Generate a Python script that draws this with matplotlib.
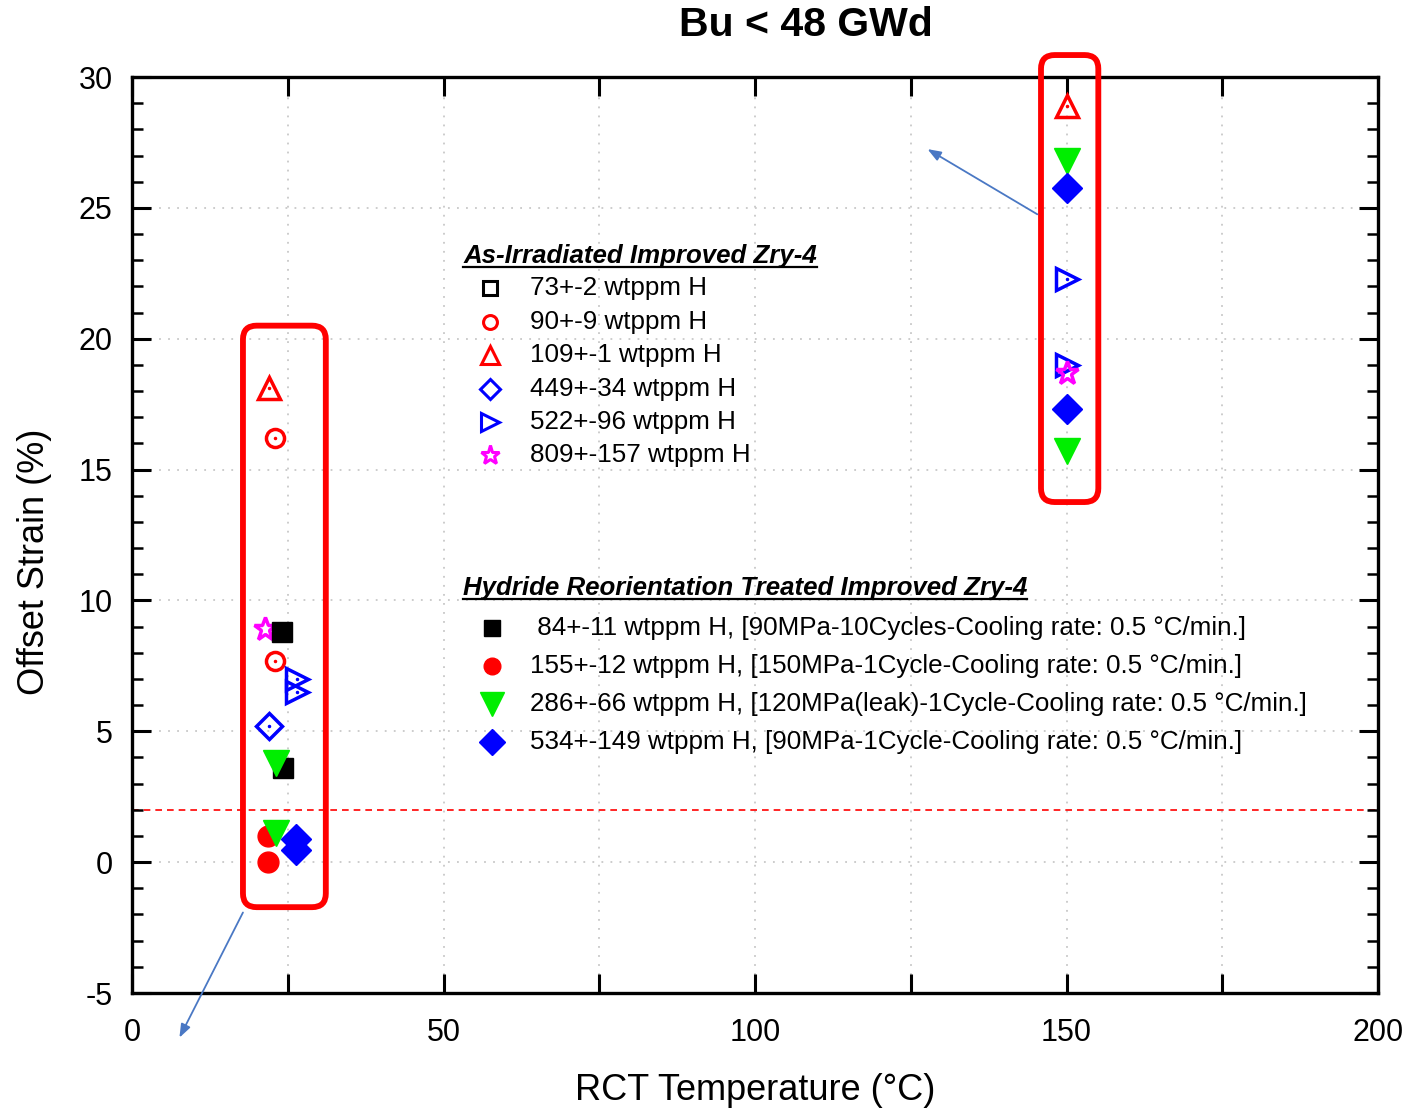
import matplotlib
matplotlib.use("Agg")
import matplotlib.pyplot as plt
from matplotlib.patches import FancyBboxPatch
from matplotlib.lines import Line2D

plt.rcParams['font.family'] = ['Liberation Sans', 'DejaVu Sans']
plt.rcParams['axes.unicode_minus'] = False

# ---- As-irradiated Improved Zry-4 (open symbols) ----
air_labels = ["73+-2 wtppm H", "90+-9 wtppm H", "109+-1 wtppm H",
              "449+-34 wtppm H", "522+-96 wtppm H", "809+-157 wtppm H"]
air_73_x, air_73_y = [], []
air_90_x, air_90_y = [23.0, 23.0], [16.2, 7.7]
air_109_x, air_109_y = [22.0, 150.0], [18.1, 28.9]
air_449_x, air_449_y = [22.0], [5.2]
air_522_x, air_522_y = [26.5, 26.5, 150.0, 150.0], [7.0, 6.5, 22.3, 19.0]
air_809_x, air_809_y = [21.3, 150.0], [8.9, 18.7]

# ---- Hydride reorientation treated Improved Zry-4 (filled symbols) ----
hr_labels = [" 84+-11 wtppm H, [90MPa-10Cycles-Cooling rate: 0.5 \u00b0C/min.]",
             "155+-12 wtppm H, [150MPa-1Cycle-Cooling rate: 0.5 \u00b0C/min.]",
             "286+-66 wtppm H, [120MPa(leak)-1Cycle-Cooling rate: 0.5 \u00b0C/min.]",
             "534+-149 wtppm H, [90MPa-1Cycle-Cooling rate: 0.5 \u00b0C/min.]"]
hr_84_x, hr_84_y = [24.1, 24.2], [8.8, 3.6]
hr_155_x, hr_155_y = [21.8, 21.8], [1.0, 0.0]
hr_286_x, hr_286_y = [23.1, 23.1, 150.0, 150.0], [3.8, 1.1, 26.8, 15.7]
hr_534_x, hr_534_y = [26.3, 26.3, 150.0, 150.0], [0.9, 0.45, 25.75, 17.3]

threshold = 2.0

RED, BLUE, GREEN, MAG, BLACK = "#ff0000", "#0000ff", "#00ee00", "#ff00ff", "#000000"

fig = plt.figure(figsize=(14.17, 11.10), dpi=100)
ax = fig.add_axes([0.0932, 0.1054, 0.8793, 0.8252])
ax.set_xlim(0, 200)
ax.set_ylim(-5, 30)

# grid
for gx in range(25, 200, 25):
    ax.axvline(gx, color="#c8c8c8", ls=(0, (1, 4)), lw=1.3, zorder=0)
for gy in range(0, 30, 5):
    ax.axhline(gy, color="#c8c8c8", ls=(0, (1, 4)), lw=1.3, zorder=0)

ax.axhline(threshold, color=RED, ls=(0, (4, 3)), lw=1.2, zorder=1)

air_style = [
    (air_73_x, air_73_y, "s", BLACK, 13),
    (air_90_x, air_90_y, "o", RED, 13),
    (air_109_x, air_109_y, "^", RED, 16),
    (air_449_x, air_449_y, "D", BLUE, 13),
    (air_522_x, air_522_y, ">", BLUE, 16),
    (air_809_x, air_809_y, "*", MAG, 17),
]
for xs, ys, m, c, s in air_style:
    if not xs:
        continue
    ax.plot(xs, ys, ls="none", marker=m, ms=s, mfc="none", mec=c, mew=2.5, zorder=3)
    if m != "*":
        ax.plot(xs, ys, ls="none", marker=".", ms=3, color=c, zorder=3)

hr_style = [
    (hr_84_x, hr_84_y, "s", BLACK, 15),
    (hr_155_x, hr_155_y, "o", RED, 15),
    (hr_286_x, hr_286_y, "v", GREEN, 19),
    (hr_534_x, hr_534_y, "D", BLUE, 15),
]
for xs, ys, m, c, s in hr_style:
    ax.plot(xs, ys, ls="none", marker=m, ms=s, mfc=c, mec=c, mew=1, zorder=4)

# ticks and spines
ax.set_xticks(range(0, 201, 25))
ax.set_xticklabels(["0", "", "50", "", "100", "", "150", "", "200"])
ax.set_yticks(range(-5, 31, 5))
ax.set_yticks(range(-5, 31, 1), minor=True)
ax.tick_params(axis="both", which="major", direction="in", length=14, width=2.2,
               top=True, right=True, labelsize=22)
ax.tick_params(axis="y", which="minor", direction="in", length=8, width=1.8,
               left=True, right=True)
ax.tick_params(axis="x", pad=18)
ax.tick_params(axis="y", pad=14)
for sp in ax.spines.values():
    sp.set_linewidth(2.4)

# highlight boxes
for (x0, x1, y0, y1) in [(17.8, 31.1, -1.72, 20.5), (145.9, 155.1, 13.76, 30.84)]:
    box = FancyBboxPatch((x0, y0), x1 - x0, y1 - y0,
                         boxstyle="round,pad=0,rounding_size=2.2",
                         mutation_aspect=0.238, fill=False, ec=RED, lw=4.2,
                         clip_on=False, zorder=5)
    ax.add_patch(box)

# arrows
arrow_kw = dict(arrowstyle="-|>,head_length=0.8,head_width=0.3", color="#4a78c4", lw=1.3)
ax.annotate("", xy=(127.3, 27.3), xytext=(145.7, 24.7), arrowprops=arrow_kw,
            annotation_clip=False, zorder=5)
ax.annotate("", xy=(7.4, -6.8), xytext=(18.0, -1.83), arrowprops=arrow_kw,
            annotation_clip=False, zorder=5)

# legend blocks
FS = 18.7

def block(title, title_xy, rows, marker_x, text_x, styles, filled):
    t = ax.text(title_xy[0], title_xy[1], title, transform=ax.transAxes, fontsize=18.6,
                fontweight="bold", style="italic", ha="left", va="center", zorder=6)
    for (yy, lab), (m, c, s) in zip(rows, styles):
        if filled:
            ax.plot([marker_x], [yy], transform=ax.transAxes, marker=m, ms=s,
                    mfc=c, mec=c, ls="none", clip_on=False, zorder=6)
        else:
            ax.plot([marker_x], [yy], transform=ax.transAxes, marker=m, ms=s,
                    mfc="none", mec=c, mew=2.2, ls="none", clip_on=False, zorder=6)
        ax.text(text_x, yy, lab, transform=ax.transAxes, fontsize=FS,
                ha="left", va="center", zorder=6)
    return t

air_rows = list(zip([0.7697, 0.7325, 0.6965, 0.6594, 0.6234, 0.5873], air_labels))
air_leg = [("s", BLACK, 10), ("o", RED, 10), ("^", RED, 13), ("D", BLUE, 10),
           (">", BLUE, 13), ("*", MAG, 14)]
t1 = block("As-Irradiated Improved Zry-4", (0.2657, 0.8046), air_rows, 0.2873, 0.3194,
           air_leg, False)

hr_rows = list(zip([0.3985, 0.3570, 0.3155, 0.2740], hr_labels))
hr_leg = [("s", BLACK, 12), ("o", RED, 12), ("v", GREEN, 17), ("D", BLUE, 13)]
t2 = block("Hydride Reorientation Treated Improved Zry-4", (0.2657, 0.4421), hr_rows,
           0.2889, 0.3194, hr_leg, True)

# axis labels and heading
fig.text(0.569, 0.9775, "Bu < 48 GWd", fontsize=29.5, fontweight="bold",
         ha="center", va="center")
fig.text(0.0247, 0.4937, "Offset Strain (%)", rotation=90, fontsize=26,
         ha="center", va="center")
fig.text(0.533, 0.018, "RCT Temperature (\u00b0C)", fontsize=26, ha="center", va="center")

# underline the legend headings
fig.canvas.draw()
inv = ax.transAxes.inverted()
for t in (t1, t2):
    bb = t.get_window_extent()
    (x0, y0), (x1, _) = inv.transform([(bb.x0, bb.y0), (bb.x1, bb.y1)])
    ax.add_line(Line2D([x0, x1], [y0 + 0.001, y0 + 0.001], transform=ax.transAxes,
                       color="black", lw=1.6, zorder=6))

fig.savefig("out.png", dpi=100)
